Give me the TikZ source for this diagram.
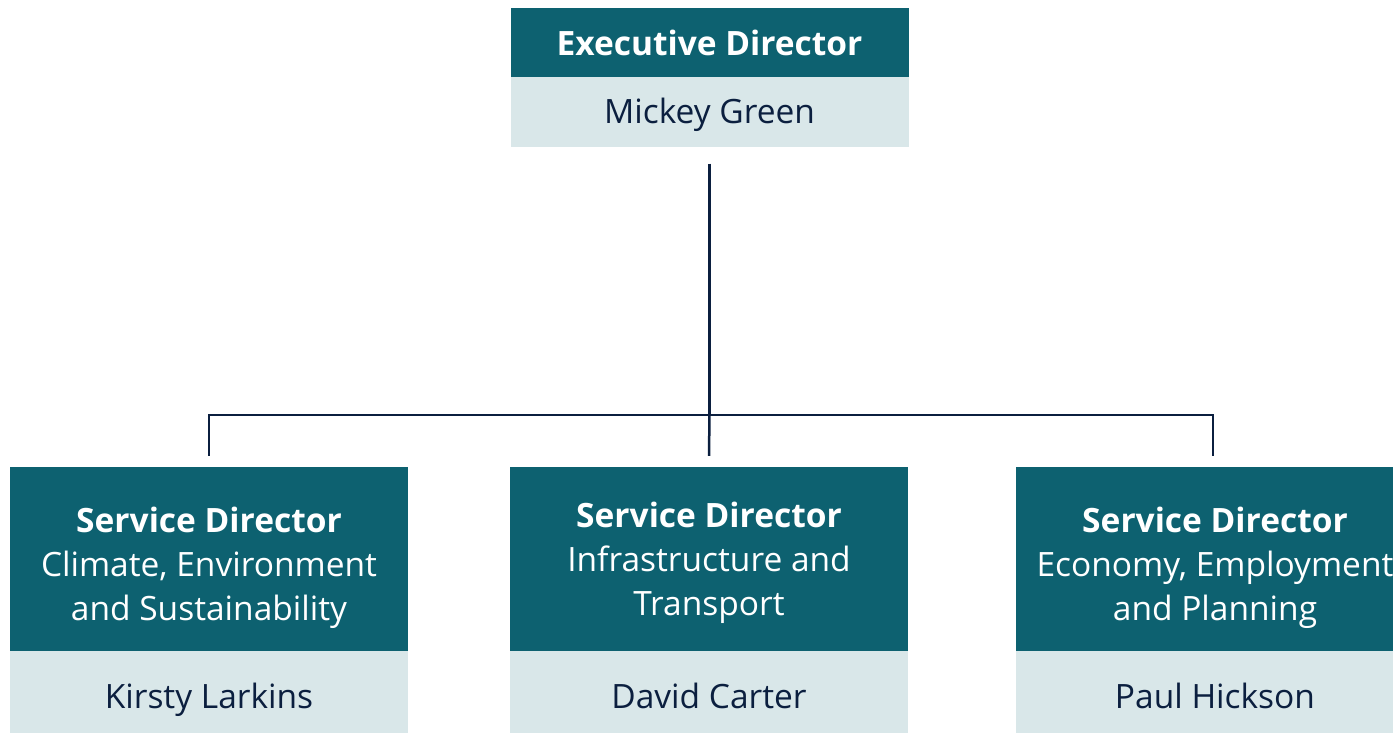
\documentclass[tikz,border=0pt]{standalone}
\usepackage{fontspec}
\setmainfont{Open Sans}
\definecolor{orgdark}{HTML}{0D6170}
\definecolor{orglight}{HTML}{D9E7E9}
\definecolor{orgink}{HTML}{0B1F3F}
\tikzset{
    head/.style={fill=orgdark, minimum width=398pt, inner sep=0pt},
    title/.style={text=white, align=center, inner sep=0pt, font=\fontsize{33.5}{44}\selectfont},
    person/.style={fill=orglight, text=orgink, minimum width=398pt, inner sep=0pt,
        text height=26pt, text depth=4pt, font=\fontsize{33.5}{44}\selectfont},
    link/.style={draw=orgink, line width=2.5pt}
}
\begin{document}
\begin{tikzpicture}[x=1pt, y=-1pt]
        \useasboundingbox (0,0) rectangle (1393,733);
        \clip (0,0) rectangle (1393,733);
        % executive director
        \node[head, title, minimum height=69pt] (exec) at (709.5,42.5) {\textbf{Executive Director}};
        \node[person, minimum height=70pt, anchor=north] (execname) at (exec.south) {Mickey Green};
        % service directors
        \foreach \cx/\dy/\nm/\area/\who in {209/9/cesd/{Climate, Environment\\and Sustainability}/Kirsty Larkins,
                709/4/itsd/{Infrastructure and\\Transport}/David Carter,
                1215/9/epsd/{Economy, Employment\\and Planning}/Paul Hickson}
        {
            \node[head, minimum height=184pt] (\nm) at (\cx,559) {};
            \node[title] (\nm title) at ([yshift=-\dy pt]\nm.center) {\textbf{Service Director}\\\area};
            \node[person, minimum height=82pt, text height=32pt, text depth=0pt, anchor=north] (\nm name) at (\nm.south) {\who};
        }
        % connectors
        \coordinate (hub) at (709.5,415);
        \draw[link] ([yshift=-16pt]execname.south) -- (hub);
        \draw[link] (hub) -| ([yshift=11pt]cesd.north);
        \draw[link] (hub) -- ([yshift=11pt]itsd.north);
        \draw[link] (hub) -| ([yshift=11pt,xshift=-2pt]epsd.north);
\end{tikzpicture}
\end{document}
